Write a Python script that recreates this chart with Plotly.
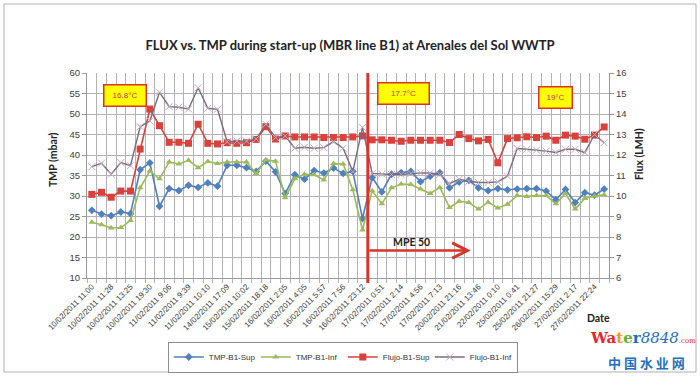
import plotly.graph_objects as go

date_labels = ["10/02/2011 11:00","10/02/2011 11:28","10/02/2011 13:25","10/02/2011 19:30",
    "11/02/2011 9:06","11/02/2011 9:39","11/02/2011 10:10","14/02/2011 17:09","15/02/2011 10:02",
    "15/02/2011 18:18","16/02/2011 2:05","16/02/2011 4:05","16/02/2011 5:57","16/02/2011 7:56",
    "16/02/2011 23:12","17/02/2011 0:51","17/02/2011 2:14","17/02/2011 4:56","17/02/2011 7:13",
    "20/02/2011 21:16","21/02/2011 13:46","22/02/2011 0:10","25/02/2011 0:41","25/02/2011 21:27",
    "26/02/2011 15:29","27/02/2011 2:17","27/02/2011 22:24"]

tmp_sup = [26.5,25.6,25.2,26.1,25.7,36.4,38.1,27.5,31.8,31.3,32.6,32.1,33.2,32.4,37.5,37.5,36.9,36.0,
    38.5,35.9,30.6,35.2,34.1,36.2,35.6,36.8,35.5,36.0,24.5,34.5,31.0,35.3,35.7,36.0,33.5,34.8,35.7,
    32.0,33.4,33.8,32.0,31.3,31.8,31.5,31.7,31.8,31.8,31.2,29.1,31.6,28.4,30.8,30.2,31.7]
tmp_inf = [23.6,23.0,22.2,22.3,24.0,32.0,36.1,34.2,38.3,37.8,38.7,36.9,38.4,37.9,38.3,38.3,38.3,35.5,
    38.8,38.5,29.6,34.2,35.3,35.2,33.9,37.9,37.8,31.5,21.7,31.3,28.1,32.0,32.9,32.8,31.7,30.6,32.1,
    27.2,28.7,28.4,26.8,28.5,27.1,28.0,30.1,29.9,30.1,30.1,28.1,30.6,26.8,29.4,30.0,30.3]
flujo_sup = [10.08,10.18,9.94,10.24,10.24,12.29,14.24,13.43,12.62,12.62,12.57,13.5,12.57,12.54,12.6,
    12.57,12.6,12.76,13.38,12.78,12.93,12.88,12.88,12.88,12.85,12.85,12.85,12.88,12.93,12.74,12.74,
    12.72,12.67,12.72,12.72,12.72,12.72,12.61,13.0,12.8,12.69,12.76,11.62,12.8,12.84,12.89,12.85,
    12.92,12.72,12.97,12.92,12.77,12.97,13.37]
flujo_inf = [11.43,11.6,11.06,11.63,11.48,13.38,13.66,15.06,14.36,14.33,14.24,15.28,14.28,14.23,12.65,
    12.68,12.68,12.78,13.5,12.85,12.93,12.33,12.38,12.33,12.36,12.65,12.33,11.19,13.35,11.1,11.07,
    11.05,11.05,11.1,11.13,11.12,11.05,10.6,10.82,10.72,10.66,10.66,10.69,10.97,12.32,12.28,12.24,
    12.19,12.12,12.28,12.28,12.12,13.0,12.6]

n = len(tmp_sup)
xs = list(range(n))
tick_idx = list(range(0, n, 2))[:len(date_labels)]

# plot-area geometry (pixels)
L, R, T, B = 87, 609, 73, 278
W, H = 700, 376

fig = go.Figure()
fig.add_trace(go.Scatter(x=xs, y=tmp_sup, name="TMP-B1-Sup", mode="lines+markers",
    line=dict(color="#4f81bd", width=1.6), marker=dict(symbol="diamond", size=6, color="#4f81bd")))
fig.add_trace(go.Scatter(x=xs, y=tmp_inf, name="TMP-B1-Inf", mode="lines+markers",
    line=dict(color="#9bbb59", width=1.6), marker=dict(symbol="triangle-up", size=6, color="#9bbb59")))
fig.add_trace(go.Scatter(x=xs, y=flujo_sup, name="Flujo-B1-Sup", mode="lines+markers", yaxis="y2",
    line=dict(color="#d9413a", width=1.6), marker=dict(symbol="square", size=7, color="#d9413a")))
fig.add_trace(go.Scatter(x=xs, y=flujo_inf, name="Flujo-B1-Inf", mode="lines+markers", yaxis="y2",
    line=dict(color="#7a6a80", width=1.4),
    marker=dict(symbol="x-thin", size=7, color="#c8aab8", line=dict(width=1, color="#c8aab8"))))

grid = "#b4b0b8"
fig.update_layout(
    width=W, height=H,
    margin=dict(l=L, r=W - R, t=T, b=H - B, autoexpand=False),
    paper_bgcolor="white", plot_bgcolor="white",
    font=dict(family="Liberation Sans", size=9, color="#404040"),
    title=dict(text="<b>FLUX vs. TMP during start-up (MBR line B1) at Arenales del Sol WWTP</b>",
               x=0.5, xanchor="center", y=1 - 45 / H, yanchor="middle",
               font=dict(family="Lato", size=13, color="#222222")),
    xaxis=dict(range=[-0.5, n - 0.5], tickvals=tick_idx, ticktext=date_labels, tickangle=-45,
               tickfont=dict(size=8, color="#3a3a3a"), showgrid=False, zeroline=False, automargin=False,
               showline=True, linecolor="#9a9a9a", ticks="",
               minor=dict(dtick=1, tick0=0.5, showgrid=True, gridcolor=grid, gridwidth=1,
                          ticks="outside", ticklen=4, tickcolor=grid)),
    yaxis=dict(range=[10, 60], dtick=5, showgrid=True, gridcolor=grid, zeroline=False, automargin=False,
               showline=True, linecolor="#9a9a9a", ticks="outside", ticklen=4, tickcolor="#9a9a9a",
               tickfont=dict(size=9.5, color="#404040")),
    yaxis2=dict(range=[6, 16], dtick=1, overlaying="y", side="right", showgrid=False, zeroline=False,
                automargin=False,
                showline=True, linecolor="#9a9a9a", ticks="outside", ticklen=4, tickcolor="#9a9a9a",
                tickfont=dict(size=9.5, color="#404040")),
    legend=dict(orientation="h", x=0.49, xanchor="center", y=(B - 357) / (B - T), yanchor="middle",
                bordercolor="#8c8c8c", borderwidth=1, font=dict(size=8, color="#333333"),
                itemwidth=30, tracegroupgap=0, entrywidth=42, entrywidthmode="pixels"),
    showlegend=True,
)

def px_x(px):
    return (px - L) / (R - L)

def px_y(py):
    return (B - py) / (B - T)

# outer chart border
fig.add_shape(type="rect", xref="paper", yref="paper", x0=px_x(4), x1=px_x(696), y0=px_y(372), y1=px_y(4),
              line=dict(color="#b0b0b0", width=1), layer="below")

# MPE 50 vertical line and arrow
mpe_x = 28.55
fig.add_shape(type="line", xref="x", yref="paper", x0=mpe_x, x1=mpe_x, y0=px_y(283), y1=1.0,
              line=dict(color="#d9342b", width=3))
fig.add_annotation(x=39.2, y=16.7, ax=mpe_x, ay=16.7, xref="x", yref="y", axref="x", ayref="y",
                   showarrow=True, arrowhead=5, arrowsize=1.2, arrowwidth=2.5, arrowcolor="#d9342b", text="")
fig.add_annotation(x=33.1, y=18.9, xref="x", yref="y", text="<b>MPE 50</b>", showarrow=False,
                   xanchor="center", yanchor="middle",
                   font=dict(family="Lato", size=10.5, color="#222222"))

# temperature boxes
temp_boxes = [("16.8°C", 3.4, 54.6, 31), ("17.7°C", 32.2, 54.9, 40), ("19°C", 48.0, 54.1, 22)]
for txt, bx, by, bw in temp_boxes:
    fig.add_annotation(x=bx, y=by, xref="x", yref="y", text=txt, showarrow=False,
                       xanchor="center", yanchor="middle",
                       bgcolor="#ffff00", bordercolor="#e0302a", borderwidth=1.5, borderpad=5,
                       width=bw, height=10, font=dict(size=8, color="#cc3366"))

# axis titles
ttl_font = dict(family="Lato", size=10.5, color="#222222")
fig.add_annotation(xref="paper", yref="paper", x=px_x(53), y=px_y(160), text="<b>TMP (mbar)</b>",
                   xanchor="center", yanchor="middle", textangle=-90, showarrow=False, font=ttl_font)
fig.add_annotation(xref="paper", yref="paper", x=px_x(639), y=px_y(154), text="<b>Flux (LMH)</b>",
                   xanchor="center", yanchor="middle", textangle=-90, showarrow=False, font=ttl_font)
fig.add_annotation(xref="paper", yref="paper", x=px_x(598), y=px_y(318), text="<b>Date</b>",
                   xanchor="center", yanchor="middle", showarrow=False, font=ttl_font)

# watermark
fig.add_annotation(xref="paper", yref="paper", x=px_x(588), y=px_y(338), xanchor="left", yanchor="middle",
    text=("<b><span style='color:#e8262b'>Wa</span><span style='color:#f39a1d'>t</span>"
          "<span style='color:#5cb531'>e</span><span style='color:#1f6fc1'>r</span></b>"
          "<i><span style='color:#1f6fc1'>8848</span></i>"
          "<span style='color:#e8262b;font-size:7px'>.com</span>"),
    showarrow=False, font=dict(family="DejaVu Serif", size=15))
fig.add_annotation(xref="paper", yref="paper", x=px_x(646), y=px_y(362), xanchor="center", yanchor="middle",
    text="<b>中 国 水 业 网</b>", showarrow=False,
    font=dict(family="Noto Sans CJK SC", size=13, color="#1f6fc1"))

fig.write_html("out.html", config={"displayModeBar": False},
               post_script="document.body.style.margin='0';document.body.style.overflow='hidden';")
